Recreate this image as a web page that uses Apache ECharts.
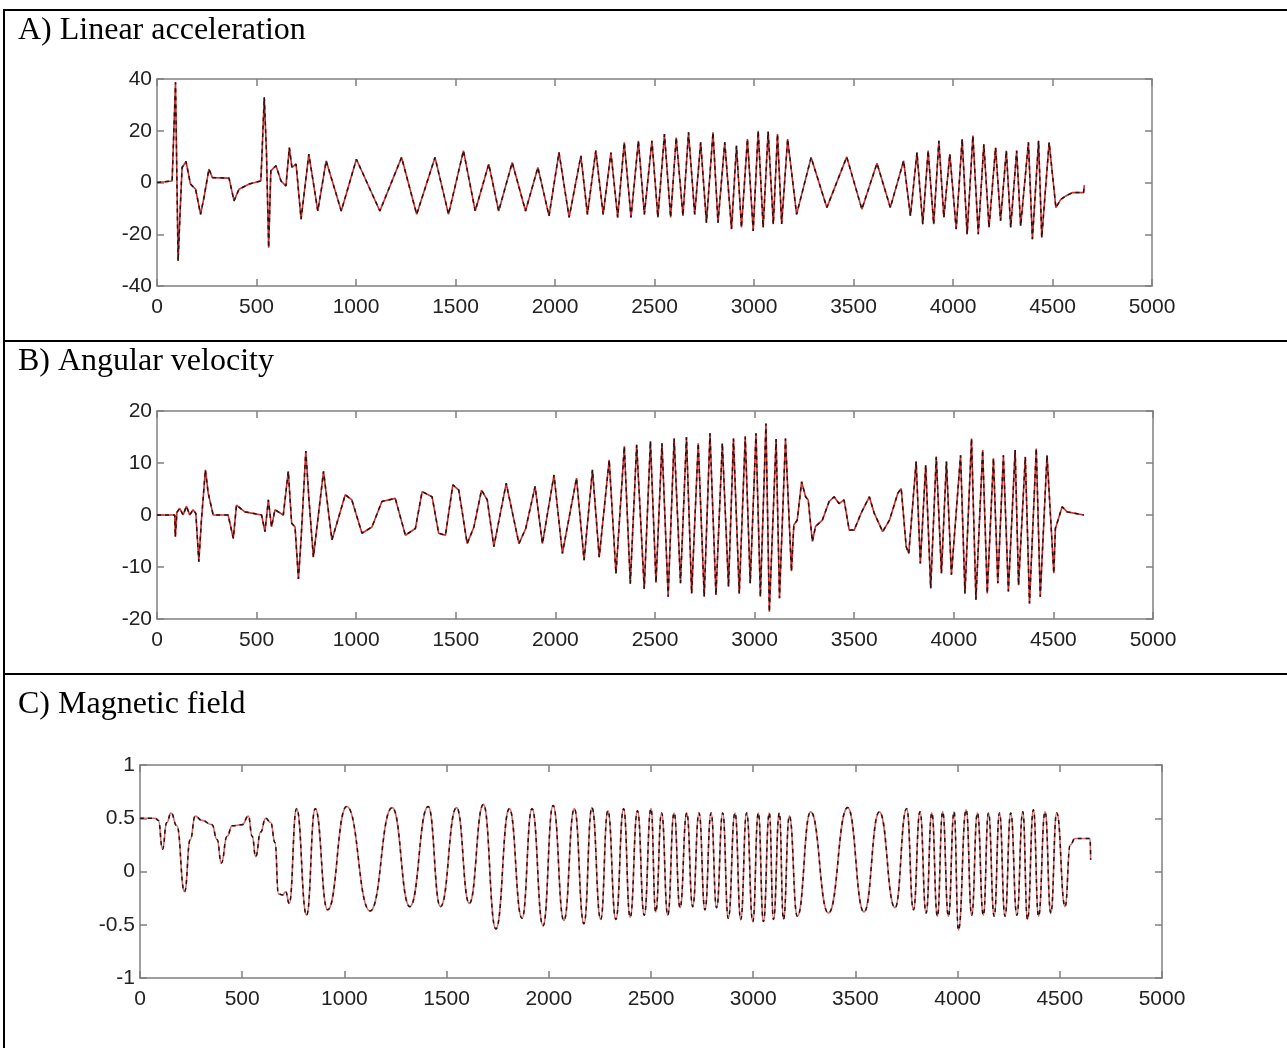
<!DOCTYPE html>
<html>
<head>
<meta charset="utf-8">
<script src="https://cdn.jsdelivr.net/npm/echarts@6/dist/echarts.min.js"></script>
<style>
html,body{margin:0;padding:0;background:#fff;}
#chart{width:1287px;height:1048px;}
</style>
</head>
<body>
<div id="chart"></div>
<script>
// ---- Data (time index, value) ----
var panelTitles = ['A) Linear acceleration', 'B) Angular velocity', 'C) Magnetic field'];
var xTicks = [0, 500, 1000, 1500, 2000, 2500, 3000, 3500, 4000, 4500, 5000];

var accelData = [[0,0],[40,0.3],[76,0.6],[93,38.7],[106,-30.3],[118,-8],[126,5.8],[146,8.1],[168,-0.6],[194,-2.6],[219,-12.3],[236,-5.8],[261,5.2],[278,1.9],[362,1.7],[387,-7.1],[412,-2.6],[463,-0.6],[522,0.6],[539,32.9],[550,12],[561,-25.2],[572,4.5],[598,6.5],[623,0.6],[648,-1.3],[665,13.5],[678,5.8],[699,7.1],[724,-14.2],[763,11],[808,-11],[850,8.4],[926,-11],[1002,9],[1120,-11],[1229,9.7],[1305,-12.3],[1397,9.7],[1465,-12.3],[1540,12.3],[1599,-11],[1667,7.1],[1717,-11],[1785,7.7],[1852,-11],[1914,5.8],[1970,-12.9],[2020,11.6],[2071,-13.5],[2130,10.3],[2163,-12.3],[2205,12.3],[2242,-12.3],[2281,11.6],[2315,-13.5],[2348,15.5],[2382,-13.5],[2419,16.1],[2449,-12.3],[2487,16.1],[2517,-13.5],[2550,18.7],[2581,-13.5],[2609,17.4],[2643,-12.9],[2671,19.4],[2702,-12.3],[2732,15.5],[2761,-15.5],[2794,19.4],[2819,-15.5],[2853,15.5],[2887,-18],[2912,14.2],[2937,-17.4],[2967,16.8],[2996,-18.7],[3021,20],[3046,-17.4],[3071,19.7],[3097,-16.1],[3118,18.7],[3139,-16],[3169,16.8],[3214,-12.3],[3287,9.7],[3366,-9.7],[3466,9.9],[3542,-10.3],[3618,7.4],[3685,-9.7],[3752,8.4],[3786,-12.9],[3819,11.6],[3848,-16.1],[3875,12.3],[3903,-16.1],[3929,16.1],[3954,-13.5],[3984,11],[4016,-18],[4046,16.8],[4071,-20],[4100,18.1],[4127,-20],[4155,14.8],[4181,-17.4],[4214,13.5],[4239,-14.8],[4268,12.3],[4290,-17.4],[4320,12.3],[4340,-16.8],[4379,15.5],[4399,-21.9],[4430,16.1],[4446,-21.3],[4483,15.5],[4517,-9.7],[4542,-6.5],[4567,-5.2],[4601,-3.9],[4656,-3.9],[4660,-1]];

var gyroData = [[0,0],[89,0],[92,-4.2],[100,0.5],[114,1.3],[131,0],[148,1.7],[164,0],[181,1],[195,0.3],[210,-9],[223,-1],[243,8.7],[257,4.2],[282,0],[357,0],[383,-4.5],[399,1.9],[441,0.6],[525,0],[542,-3.2],[559,2.9],[575,-2.3],[592,1],[634,0],[659,8.4],[676,-1.6],[693,-2.3],[710,-12.3],[723,-4.8],[747,12.3],[763,2.9],[785,-8.1],[836,8.4],[878,-4.8],[903,-1.6],[945,3.9],[978,2.9],[1029,-3.5],[1079,-2.3],[1129,2.6],[1196,3.2],[1247,-3.9],[1297,-2.6],[1331,4.5],[1381,3.5],[1414,-3.5],[1448,-3.9],[1485,5.8],[1515,4.8],[1557,-5.5],[1591,-2.3],[1629,4.8],[1658,2.9],[1691,-6.1],[1753,6.1],[1817,-5.5],[1851,-2.6],[1898,5.5],[1935,-5.5],[1993,7.7],[2035,-7.4],[2106,7.1],[2144,-8.7],[2186,8.7],[2220,-8.1],[2270,10.6],[2304,-11.3],[2346,13.2],[2376,-13.2],[2408,13.5],[2446,-14.2],[2477,14.2],[2505,-13],[2535,13.8],[2566,-15.7],[2596,14.7],[2628,-13.1],[2658,15],[2684,-15.1],[2717,13.8],[2747,-15.7],[2776,15.7],[2806,-15.4],[2838,13.8],[2869,-13.8],[2894,14.7],[2923,-15.1],[2953,15.1],[2978,-13.1],[3007,15.7],[3029,-15.7],[3057,17.6],[3074,-18.6],[3108,14.6],[3125,-16],[3155,14.7],[3185,-10.8],[3197,-1.9],[3214,-1],[3236,6.4],[3256,3.5],[3269,2.9],[3290,-5.1],[3306,-2.2],[3340,-1],[3374,2.6],[3399,3.5],[3424,2.2],[3449,2.9],[3475,-2.9],[3500,-2.9],[3534,0.3],[3576,3.5],[3601,0.3],[3643,-3.2],[3677,-1],[3719,4.2],[3736,5.1],[3761,-6.1],[3774,-7.4],[3811,10.3],[3832,-9.3],[3859,9.6],[3884,-14.1],[3912,11.2],[3938,-11.2],[3963,10.3],[3988,-11.5],[4034,11.5],[4056,-15.1],[4089,14.7],[4111,-16.3],[4145,12.5],[4168,-15.1],[4199,10.9],[4221,-13.1],[4249,11.5],[4274,-14.7],[4308,12.5],[4325,-13.5],[4359,11.2],[4380,-17],[4414,12.8],[4434,-15.7],[4468,11.5],[4502,-11.2],[4510,-2.6],[4544,1.6],[4569,0.6],[4653,0]];

var magData = [[0,0.5],[74,0.5],[90,0.48],[110,0.21],[131,0.46],[152,0.55],[180,0.43],[218,-0.19],[246,0.3],[270,0.52],[303,0.48],[352,0.44],[377,0.3],[398,0.08],[426,0.33],[451,0.43],[500,0.44],[530,0.52],[549,0.33],[566,0.14],[590,0.37],[615,0.5],[639,0.46],[661,0.27],[677,-0.21],[697,-0.22],[713,-0.19],[730,-0.3],[766,0.59],[815,-0.41],[857,0.59],[918,-0.36],[1011,0.61],[1126,-0.37],[1234,0.6],[1320,-0.33],[1410,0.61],[1470,-0.33],[1549,0.6],[1611,-0.3],[1680,0.63],[1741,-0.54],[1807,0.59],[1869,-0.44],[1918,0.59],[1972,-0.51],[2021,0.62],[2074,-0.46],[2125,0.59],[2172,-0.49],[2211,0.6],[2254,-0.45],[2289,0.57],[2328,-0.45],[2366,0.59],[2398,-0.43],[2434,0.57],[2467,-0.41],[2500,0.59],[2523,-0.38],[2552,0.55],[2582,-0.41],[2613,0.55],[2642,-0.34],[2675,0.55],[2704,-0.33],[2735,0.55],[2764,-0.36],[2794,0.55],[2821,-0.34],[2851,0.55],[2878,-0.44],[2911,0.55],[2939,-0.45],[2968,0.55],[2998,-0.47],[3025,0.55],[3050,-0.47],[3079,0.55],[3099,-0.45],[3128,0.55],[3148,-0.45],[3177,0.52],[3216,-0.42],[3281,0.56],[3368,-0.39],[3462,0.6],[3542,-0.38],[3617,0.56],[3694,-0.34],[3751,0.59],[3784,-0.36],[3816,0.56],[3846,-0.39],[3874,0.55],[3901,-0.42],[3927,0.56],[3955,-0.42],[3983,0.56],[4004,-0.55],[4042,0.58],[4069,-0.41],[4097,0.55],[4126,-0.41],[4151,0.55],[4179,-0.42],[4205,0.55],[4232,-0.42],[4260,0.55],[4290,-0.41],[4319,0.56],[4342,-0.45],[4371,0.58],[4396,-0.42],[4428,0.56],[4456,-0.39],[4485,0.55],[4526,-0.33],[4551,0.25],[4575,0.31],[4648,0.31],[4651,0.11]];

var yRanges = [[-40, 40, 20], [-20, 20, 10], [-1, 1, 0.5]];

// ---- Layout / style ----
var grids = [
  {left: 157, top: 79, width: 995, height: 207},
  {left: 157, top: 411, width: 996, height: 208},
  {left: 140, top: 765, width: 1022, height: 213}
];
var axisColor = '#808080';
var plainNum = function (v) { return String(v); };
var labelFont = {color: '#222222', fontSize: 21, fontFamily: 'Liberation Sans', formatter: plainNum};

var xAxes = [], yAxes = [], series = [];
var datasets = [accelData, gyroData, magData];
for (var i = 0; i < 3; i++) {
  var common = {
    gridIndex: i, type: 'value',
    axisLine: {show: true, onZero: false, lineStyle: {color: axisColor, width: 1.5}},
    axisTick: {show: true, inside: true, length: 7, lineStyle: {color: axisColor, width: 1.5}},
    splitLine: {show: false}
  };
  xAxes.push(Object.assign({}, common, {
    position: 'bottom', min: xTicks[0], max: xTicks[xTicks.length - 1], interval: xTicks[1] - xTicks[0],
    axisLabel: Object.assign({margin: 11}, labelFont)
  }));
  xAxes.push(Object.assign({}, common, {
    position: 'top', min: xTicks[0], max: xTicks[xTicks.length - 1], interval: xTicks[1] - xTicks[0],
    axisLabel: {show: false}
  }));
  yAxes.push(Object.assign({}, common, {
    position: 'left', min: yRanges[i][0], max: yRanges[i][1], interval: yRanges[i][2],
    axisLabel: Object.assign({margin: 5}, labelFont)
  }));
  yAxes.push(Object.assign({}, common, {
    position: 'right', min: yRanges[i][0], max: yRanges[i][1], interval: yRanges[i][2],
    axisLabel: {show: false}
  }));
  var smooth = (i === 2) ? 0.5 : false;
  series.push({
    name: 'measured ' + i, type: 'line', xAxisIndex: 2 * i, yAxisIndex: 2 * i,
    data: datasets[i], showSymbol: false, smooth: smooth, smoothMonotone: 'x',
    lineStyle: {color: (i === 2 ? '#d86a6a' : '#cf3030'), width: 1.6}, z: 2
  });
  series.push({
    name: 'estimated ' + i, type: 'line', xAxisIndex: 2 * i, yAxisIndex: 2 * i,
    data: datasets[i], showSymbol: false, smooth: smooth, smoothMonotone: 'x',
    lineStyle: {color: '#2a1010', width: 1.5, type: [4, 4]}, z: 3
  });
}

var titleFont = '32px "Liberation Serif", "Times New Roman", serif';
var graphic = [
  {type: 'line', shape: {x1: 4, y1: 10, x2: 1287, y2: 10}, style: {stroke: '#000', lineWidth: 2}},
  {type: 'line', shape: {x1: 4, y1: 341, x2: 1287, y2: 341}, style: {stroke: '#000', lineWidth: 2}},
  {type: 'line', shape: {x1: 4, y1: 674, x2: 1287, y2: 674}, style: {stroke: '#000', lineWidth: 2}},
  {type: 'line', shape: {x1: 4, y1: 9, x2: 4, y2: 1048}, style: {stroke: '#000', lineWidth: 2}},
  {type: 'text', x: 18, y: 31, style: {text: panelTitles[0], font: titleFont, fill: '#000', verticalAlign: 'middle'}},
  {type: 'text', x: 18, y: 362, style: {text: panelTitles[1], font: titleFont, fill: '#000', verticalAlign: 'middle'}},
  {type: 'text', x: 18, y: 705, style: {text: panelTitles[2], font: titleFont, fill: '#000', verticalAlign: 'middle'}}
];

var chart = echarts.init(document.getElementById('chart'), null, {renderer: 'canvas'});
chart.setOption({
  animation: false,
  backgroundColor: '#ffffff',
  grid: grids,
  xAxis: xAxes,
  yAxis: yAxes,
  series: series,
  graphic: graphic
});
</script>
</body>
</html>
